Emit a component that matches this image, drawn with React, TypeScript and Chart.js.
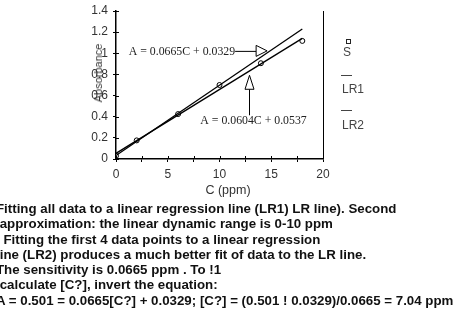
import React, { useEffect, useRef } from "react";
import { Chart, registerables } from "chart.js";

Chart.register(...registerables);

const CONC = [0, 2, 6, 10, 14, 18];
const ABS = [0.03, 0.176, 0.425, 0.7, 0.906, 1.117];
const LR1_C = [0, 18];
const LR1_A = [0.0329, 1.2299];
const LR2_C = [0, 18];
const LR2_A = [0.0537, 1.1409];
const X_TICKS = [0, 2.5, 5, 7.5, 10, 12.5, 15, 17.5, 20];
const X_LABELS = ["0", "", "5", "", "10", "", "15", "", "20"];
const Y_TICKS = [0, 0.2, 0.4, 0.6, 0.8, 1, 1.2, 1.4];
const Y_LABELS = ["0", "0.2", "0.4", "0.6", "0.8", "1", "1.2", "1.4"];
const EQ1 = "A = 0.0665C + 0.0329";
const EQ2 = "A = 0.0604C + 0.0537";
const LEGEND = ["S", "LR1", "LR2"];
const PARAGRAPH = [
  "Fitting all data to a linear regression line (LR1) LR line). Second",
  " approximation: the linear dynamic range is 0-10 ppm",
  "  Fitting the first 4 data points to a linear regression",
  "line (LR2) produces a much better fit of data to the LR line.",
  "The sensitivity is 0.0665 ppm . To !1",
  " calculate [C?], invert the equation:",
  "A = 0.501 = 0.0665[C?] + 0.0329; [C?] = (0.501 ! 0.0329)/0.0665 = 7.04 ppm",
];

const annPlugin = {
  id: "ann",
  afterDatasetsDraw(chart: any) {
    const { ctx, chartArea, scales } = chart;
    const xs = scales.x;
    const ys = scales.y;
    ctx.save();
    ctx.strokeStyle = "#000";
    ctx.lineWidth = 1;
    // right border
    ctx.beginPath();
    ctx.moveTo(chartArea.right + 0.5, chartArea.top);
    ctx.lineTo(chartArea.right + 0.5, chartArea.bottom);
    ctx.stroke();
    // inner tick parts
    X_TICKS.forEach((v) => {
      const px = Math.round(xs.getPixelForValue(v)) + 0.5;
      ctx.beginPath();
      ctx.moveTo(px, chartArea.bottom);
      ctx.lineTo(px, chartArea.bottom - 3);
      ctx.stroke();
    });
    Y_TICKS.forEach((v) => {
      const py = Math.round(ys.getPixelForValue(v)) + 0.5;
      ctx.beginPath();
      ctx.moveTo(chartArea.left, py);
      ctx.lineTo(chartArea.left + 3, py);
      ctx.stroke();
    });
    // annotation 1: arrow pointing right to LR1
    const c1 = 14.6;
    const tx1 = xs.getPixelForValue(c1);
    const ty1 = ys.getPixelForValue(LR1_A[0] + (LR1_A[1] - LR1_A[0]) * (c1 / 18)) - 2;
    ctx.fillStyle = "#fff";
    ctx.beginPath();
    ctx.moveTo(tx1 - 32, ty1 + 0.5);
    ctx.lineTo(tx1 - 11, ty1 + 0.5);
    ctx.stroke();
    ctx.beginPath();
    ctx.moveTo(tx1, ty1);
    ctx.lineTo(tx1 - 11, ty1 - 5.5);
    ctx.lineTo(tx1 - 11, ty1 + 5.5);
    ctx.closePath();
    ctx.fill();
    ctx.stroke();
    ctx.fillStyle = "#222";
    ctx.font = "11.8px 'Liberation Serif', serif";
    ctx.textAlign = "right";
    ctx.textBaseline = "middle";
    ctx.fillText(EQ1, tx1 - 32, ty1 + 1.5);
    // annotation 2: arrow pointing up to LR2
    const c2 = 12.85;
    const tx2 = Math.round(xs.getPixelForValue(c2)) + 0.5;
    const ty2 = ys.getPixelForValue(LR2_A[0] + (LR2_A[1] - LR2_A[0]) * (c2 / 18)) + 4;
    ctx.fillStyle = "#fff";
    ctx.beginPath();
    ctx.moveTo(tx2, ty2 + 14);
    ctx.lineTo(tx2, ty2 + 40);
    ctx.stroke();
    ctx.beginPath();
    ctx.moveTo(tx2, ty2);
    ctx.lineTo(tx2 - 4.5, ty2 + 14);
    ctx.lineTo(tx2 + 4.5, ty2 + 14);
    ctx.closePath();
    ctx.fill();
    ctx.stroke();
    ctx.fillStyle = "#222";
    ctx.textAlign = "center";
    ctx.fillText(EQ2, tx2 + 4, ty2 + 46);
    ctx.restore();
  },
};

export default function App() {
  const ref = useRef<HTMLCanvasElement | null>(null);
  useEffect(() => {
    if (!ref.current) return;
    const tickFont = { family: "'Liberation Sans', Arial, sans-serif", size: 12 };
    const chart = new Chart(ref.current, {
      type: "scatter",
      data: {
        datasets: [
          {
            label: "LR1",
            data: LR1_C.map((c, i) => ({ x: c, y: LR1_A[i] })),
            showLine: true,
            borderColor: "#000",
            borderWidth: 1.3,
            pointRadius: 0,
          },
          {
            label: "LR2",
            data: LR2_C.map((c, i) => ({ x: c, y: LR2_A[i] })),
            showLine: true,
            borderColor: "#000",
            borderWidth: 1.3,
            pointRadius: 0,
          },
          {
            label: "S",
            data: CONC.map((c, i) => ({ x: c, y: ABS[i] })),
            pointRadius: 2.5,
            pointBackgroundColor: "#fff",
            pointBorderColor: "#000",
            pointBorderWidth: 1,
          },
        ],
      },
      options: {
        responsive: false,
        animation: false,
        devicePixelRatio: 1,
        layout: { padding: { left: 0, right: 148, top: 11, bottom: 0 } },
        plugins: { legend: { display: false }, tooltip: { enabled: false } },
        scales: {
          x: {
            type: "linear",
            min: 0,
            max: 20,
            afterBuildTicks: (s: any) => {
              s.ticks = X_TICKS.map((v) => ({ value: v }));
            },
            afterFit: (s: any) => {
              s.height = 41;
              s.paddingLeft = 0;
              s.paddingRight = 0;
              s.paddingTop = 0;
              s.paddingBottom = 0;
            },
            ticks: {
              autoSkip: false,
              maxRotation: 0,
              color: "#333",
              font: tickFont,
              padding: 5,
              callback: (_v: any, i: number) => X_LABELS[i],
            },
            grid: {
              display: true,
              drawOnChartArea: false,
              drawTicks: true,
              tickLength: 3,
              color: "#000",
            },
            border: { display: true, color: "#000", width: 1.5 },
          },
          y: {
            type: "linear",
            min: 0,
            max: 1.4,
            afterBuildTicks: (s: any) => {
              s.ticks = Y_TICKS.map((v) => ({ value: v }));
            },
            afterFit: (s: any) => {
              s.width = 116;
              s.paddingLeft = 0;
              s.paddingRight = 0;
              s.paddingTop = 0;
              s.paddingBottom = 0;
            },
            ticks: {
              autoSkip: false,
              color: "#333",
              font: tickFont,
              padding: 5,
              callback: (_v: any, i: number) => Y_LABELS[i],
            },
            grid: {
              display: true,
              drawOnChartArea: false,
              drawTicks: true,
              tickLength: 3,
              color: "#000",
            },
            border: { display: true, color: "#000", width: 1.5 },
          },
        },
      },
      plugins: [annPlugin],
    } as any);
    return () => chart.destroy();
  }, []);

  const sans = "'Liberation Sans', Arial, sans-serif";
  return (
    <div style={{ position: "fixed", left: 0, top: 0, width: 471, height: 312, background: "#fff", overflow: "hidden" }}>
      <canvas ref={ref} width={471} height={200} style={{ position: "absolute", left: 0, top: 0, width: 471, height: 200 }} />
      <div style={{ position: "absolute", left: 228, top: 190, transform: "translate(-50%,-50%)", font: `12.5px ${sans}`, color: "#333", whiteSpace: "nowrap" }}>C (ppm)</div>
      <div style={{ position: "absolute", left: 98, top: 73, transform: "translate(-50%,-50%) rotate(-90deg)", font: `11px ${sans}`, color: "#333", whiteSpace: "nowrap" }}>Absorbance</div>
      <div style={{ position: "absolute", left: 346, top: 39, width: 3, height: 3, border: "1px solid #222" }} />
      <div style={{ position: "absolute", left: 343, top: 52, transform: "translateY(-50%)", font: `12px ${sans}`, color: "#444" }}>{LEGEND[0]}</div>
      <div style={{ position: "absolute", left: 341, top: 75, width: 11, height: 1, background: "#444" }} />
      <div style={{ position: "absolute", left: 342, top: 89, transform: "translateY(-50%)", font: `12px ${sans}`, color: "#444" }}>{LEGEND[1]}</div>
      <div style={{ position: "absolute", left: 341, top: 110, width: 11, height: 1, background: "#444" }} />
      <div style={{ position: "absolute", left: 342, top: 125, transform: "translateY(-50%)", font: `12px ${sans}`, color: "#444" }}>{LEGEND[2]}</div>
      <div style={{ position: "absolute", left: -4, top: 201, font: `bold 13.3px ${sans}`, lineHeight: "15.3px", color: "#111", whiteSpace: "pre" }}>
        {PARAGRAPH.map((l, i) => (
          <div key={i}>{l}</div>
        ))}
      </div>
    </div>
  );
}
